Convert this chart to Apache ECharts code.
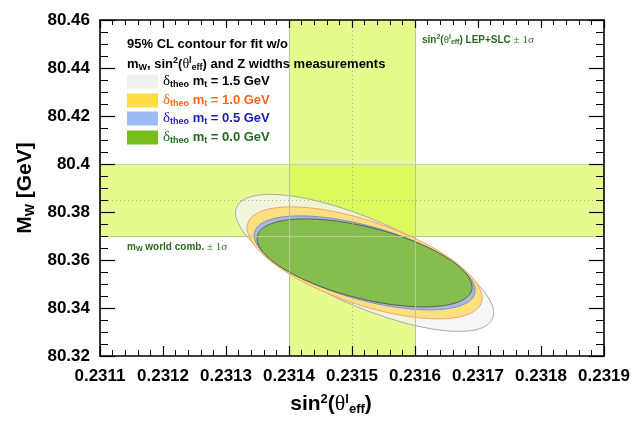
<!DOCTYPE html>
<html>
<head>
<meta charset="utf-8">
<script src="https://cdn.jsdelivr.net/npm/echarts@6/dist/echarts.min.js"></script>
<style>
  html, body { margin: 0; padding: 0; background: #fff; }
  #chart { width: 642px; height: 425px; }
</style>
</head>
<body>
<div id="chart"></div>
<script>
// axis ranges
const xRange = [0.2311, 0.2319]
const yRange = [80.32, 80.46]
const xStep = 0.0001
const yStep = 0.02

// measurement bands (+-1 sigma) and central values
const sw2Band = [0.2314, 0.2316]
const sw2Central = 0.2315
const mwBand = [80.37, 80.40]
const mwCentral = 80.385

// 95% CL contours, one per delta_theo m_t
const mtTheo = ['1.5', '1.0', '0.5', '0.0']
const contourCenter = [0.23152, 80.3588]
const halfWidthX = [0.0002048, 0.0001865, 0.0001754, 0.0001706]
const halfHeightY = [0.02854, 0.02333, 0.01958, 0.01833]
const correlation = [-0.73, -0.625, -0.585, -0.55]

const FONT = '"Liberation Sans", Arial, sans-serif'
const SERIF = '"Liberation Serif", "DejaVu Serif", serif'

const fills = ['rgba(243,243,243,0.78)', '#fee07e', '#aab9dc', '#86bd4f']
const strokes = ['#a8a8a8', '#f3a07c', '#7b8fd0', '#55633f']
const legendColors = ['#f0f0f0', '#ffdd44', '#9dbbf5', '#77be1c']
const textColors = ['#000000', '#ff6418', '#1a1ab4', '#1f6a1f']
const legendCenters = [82, 101, 119, 138]

function ellipseItem(color, stroke) {
  return function (params, api) {
    const cx = api.value(0)
    const cy = api.value(1)
    const sx = api.value(2)
    const sy = api.value(3)
    const rho = api.value(4)
    const k = Math.sqrt(1 - rho * rho)
    const pts = []
    for (let i = 0; i < 180; i++) {
      const t = (2 * Math.PI * i) / 180
      pts.push(api.coord([cx + sx * Math.cos(t), cy + sy * (rho * Math.cos(t) + k * Math.sin(t))]))
    }
    return {
      type: 'polygon',
      shape: { points: pts },
      style: { fill: color, stroke: stroke, lineWidth: 1 },
    }
  }
}

const contourSeries = mtTheo.map(function (mt, i) {
  return {
    name: mt,
    type: 'custom',
    z: 2,
    itemStyle: { color: legendColors[i] },
    renderItem: ellipseItem(fills[i], strokes[i]),
    data: [[contourCenter[0], contourCenter[1], halfWidthX[i], halfHeightY[i], correlation[i]]],
  }
})

const legendRich = {
  d: { fontFamily: SERIF, fontSize: 15, fontWeight: 'normal', lineHeight: 16 },
  s: { fontSize: 9, fontWeight: 'bold', lineHeight: 10, padding: [7, 0, 0, 0] },
  m: { fontSize: 13, fontWeight: 'bold', lineHeight: 16 },
}

const legends = mtTheo.map(function (mt, i) {
  return {
    left: 127,
    top: legendCenters[i] - 8.5,
    padding: 0,
    itemWidth: 31,
    itemHeight: 14,
    itemGap: 5,
    selectedMode: false,
    data: [{ name: mt, icon: 'rect', itemStyle: { color: legendColors[i] } }],
    formatter: function (name) {
      return '{d|δ}{s|theo}{m| m}{s|t}{m| = ' + name + ' GeV}'
    },
    textStyle: { color: textColors[i], fontFamily: FONT, fontWeight: 'bold', fontSize: 13, rich: legendRich },
  }
})

const titleRich = {
  m: { fontSize: 13, fontWeight: 'bold', lineHeight: 16 },
  s: { fontSize: 9, fontWeight: 'bold', lineHeight: 10, padding: [7, 0, 0, 0] },
  p: { fontSize: 9, fontWeight: 'bold', lineHeight: 10, padding: [0, 0, 7, 0] },
  t: { fontFamily: SERIF, fontSize: 14, fontWeight: 'normal', lineHeight: 16 },
}
const noteRich = {
  m: { fontSize: 10, fontWeight: 'bold', lineHeight: 12 },
  s: { fontSize: 7, fontWeight: 'bold', lineHeight: 8, padding: [5, 0, 0, 0] },
  p: { fontSize: 7, fontWeight: 'bold', lineHeight: 8, padding: [0, 0, 5, 0] },
  t: { fontFamily: SERIF, fontSize: 11, fontWeight: 'normal', lineHeight: 12 },
}

function tickAxis(len, minorLen, split) {
  return {
    axisLine: { show: true, lineStyle: { color: '#000', width: 1.6 } },
    axisTick: { show: true, inside: true, length: len, lineStyle: { color: '#000', width: 1.2 } },
    minorTick: { show: true, splitNumber: split, length: minorLen, lineStyle: { color: '#000', width: 1 } },
    splitLine: { show: false },
    minorSplitLine: { show: false },
  }
}

const option = {
  animation: false,
  backgroundColor: '#fff',
  title: [
    {
      text: '95% CL contour for fit w/o',
      left: 127, top: 38, padding: 0,
      textStyle: { fontFamily: FONT, fontSize: 13, fontWeight: 'bold', color: '#000' },
    },
    {
      text: '{m|m}{s|W}{m|, sin}{p|2}{m|(}{t|θ}{p|l}{s|eff}{m|) and Z widths measurements}',
      left: 127, top: 56, padding: 0,
      textStyle: { fontFamily: FONT, fontSize: 13, fontWeight: 'bold', color: '#000', rich: titleRich },
    },
    {
      text: '{m|sin}{p|2}{m|(}{t|θ}{p|l}{s|eff}{m|) LEP+SLC }{t|± 1σ}',
      left: 422, top: 34, padding: 0,
      textStyle: { fontFamily: FONT, fontSize: 10, fontWeight: 'bold', color: '#2c6a1e', rich: noteRich },
    },
    {
      text: '{m|m}{s|W}{m| world comb. }{t|± 1σ}',
      left: 127, top: 241, padding: 0,
      textStyle: { fontFamily: FONT, fontSize: 10, fontWeight: 'bold', color: '#2c6a1e', rich: noteRich },
    },
  ],
  legend: legends,
  grid: { left: 100, top: 20, width: 504, height: 336, show: false },
  xAxis: [
    Object.assign({
      type: 'value', min: xRange[0], max: xRange[1], interval: xStep, z: 10,
      name: '{m|sin}{p|2}{m|(}{t|θ}{p|l}{s|eff}{m|)}',
      nameLocation: 'middle', nameGap: 36,
      nameTextStyle: {
        fontFamily: FONT, fontSize: 21, fontWeight: 'bold', color: '#000', padding: [0, 42, 0, 0],
        rich: {
          m: { fontSize: 21, fontWeight: 'bold', lineHeight: 24 },
          p: { fontSize: 13, fontWeight: 'bold', lineHeight: 14, padding: [0, 0, 10, 0] },
          s: { fontSize: 13, fontWeight: 'bold', lineHeight: 14, padding: [10, 0, 0, 0] },
          t: { fontFamily: SERIF, fontSize: 22, fontWeight: 'normal', lineHeight: 24 },
        },
      },
      axisLabel: { margin: 12, color: '#000', fontFamily: FONT, fontSize: 17, fontWeight: 'bold' },
    }, tickAxis(10, 6, 5)),
    Object.assign({
      type: 'value', position: 'top', min: xRange[0], max: xRange[1], interval: xStep, z: 10,
      axisLabel: { show: false },
    }, tickAxis(8, 5, 5)),
  ],
  yAxis: [
    Object.assign({
      type: 'value', min: yRange[0], max: yRange[1], interval: yStep, z: 10,
      name: '{m|M}{s|W}{m| [GeV]}',
      nameLocation: 'middle', nameGap: 62, nameRotate: 90,
      nameTextStyle: {
        fontFamily: FONT, fontSize: 21, fontWeight: 'bold', color: '#000', padding: [0, 0, 0, 0],
        rich: {
          m: { fontSize: 21, fontWeight: 'bold', lineHeight: 24 },
          s: { fontSize: 13, fontWeight: 'bold', lineHeight: 14, padding: [10, 0, 0, 0] },
        },
      },
      axisLabel: { margin: 10, color: '#000', fontFamily: FONT, fontSize: 17, fontWeight: 'bold' },
    }, tickAxis(15, 8, 4)),
    Object.assign({
      type: 'value', position: 'right', min: yRange[0], max: yRange[1], interval: yStep, z: 10,
      axisLabel: { show: false },
    }, tickAxis(15, 8, 4)),
  ],
  series: [
    {
      name: 'bands',
      type: 'line',
      z: 1,
      data: [],
      markArea: {
        silent: true,
        itemStyle: { color: 'rgba(212,248,60,0.58)' },
        data: [
          [{ xAxis: sw2Band[0] }, { xAxis: sw2Band[1] }],
          [{ yAxis: mwBand[0] }, { yAxis: mwBand[1] }],
        ],
      },
    },
  ].concat(contourSeries).concat([
    {
      name: 'lines',
      type: 'line',
      z: 3,
      data: [],
      markLine: {
        silent: true,
        symbol: 'none',
        precision: 6,
        label: { show: false },
        data: [
          { xAxis: sw2Band[0], lineStyle: { color: '#b7c98c', width: 1, type: 'solid' } },
          { xAxis: sw2Band[1], lineStyle: { color: '#b7c98c', width: 1, type: 'solid' } },
          { yAxis: mwBand[0], lineStyle: { color: '#b7c98c', width: 1, type: 'solid' } },
          { yAxis: mwBand[1], lineStyle: { color: '#c9d4ae', width: 1, type: 'solid' } },
          { xAxis: sw2Central, lineStyle: { color: '#aab58a', width: 1, type: [1, 3] } },
          { yAxis: mwCentral, lineStyle: { color: '#aab58a', width: 1, type: [1, 3] } },
        ],
      },
    },
  ]),
}

const myChart = echarts.init(document.getElementById('chart'))
myChart.setOption(option)
</script>
</body>
</html>
